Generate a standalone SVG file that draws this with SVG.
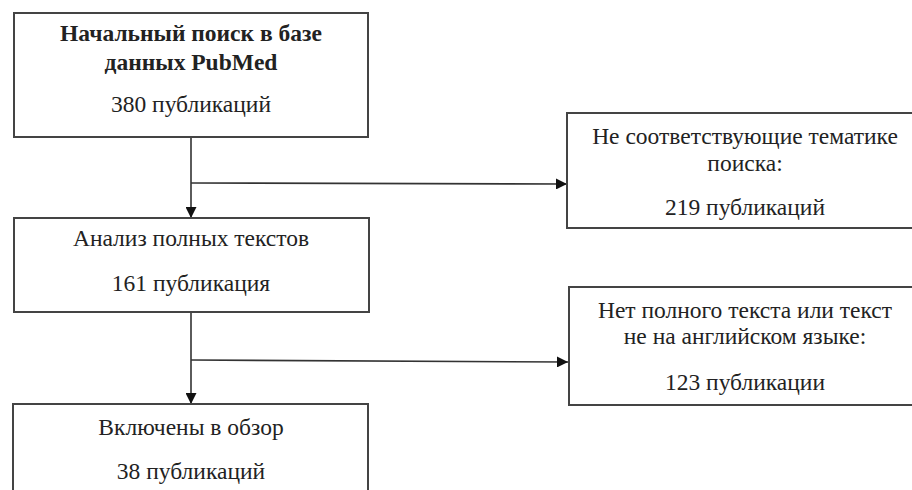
<svg xmlns="http://www.w3.org/2000/svg" width="912" height="490" viewBox="0 0 912 490">
<defs>
<style>
.box{fill:#fff;stroke:#444;stroke-width:2}
.t{font-family:"Liberation Serif","Times New Roman",serif;font-size:23.5px;fill:#222;text-anchor:middle}
.b{font-weight:bold}
.c{fill:none;stroke:#333;stroke-width:1.6}
</style>
<marker id="ah" viewBox="0 0 10 10" refX="10" refY="5" markerWidth="11" markerHeight="11" orient="auto" markerUnits="userSpaceOnUse">
<path d="M0,0 L10,5 L0,10 z" fill="#111"/>
</marker>
</defs>
<rect width="912" height="490" fill="#fff"/>
<g id="connectors">
<line class="c" x1="191" y1="137" x2="191" y2="218" marker-end="url(#ah)"/>
<line class="c" x1="191" y1="183" x2="567" y2="184" marker-end="url(#ah)"/>
<line class="c" x1="191" y1="312" x2="191" y2="404" marker-end="url(#ah)"/>
<line class="c" x1="191" y1="360" x2="568" y2="362" marker-end="url(#ah)"/>
</g>
<g id="n1">
<rect class="box" x="14" y="13" width="354" height="124"/>
<text class="t b" x="191" y="41">Начальный поиск в базе</text>
<text class="t b" x="191" y="70">данных PubMed</text>
<text class="t" x="191" y="112">380 публикаций</text>
</g>
<g id="n2">
<rect class="box" x="14" y="218" width="355" height="94"/>
<text class="t" x="191" y="246">Анализ полных текстов</text>
<text class="t" x="191" y="291">161 публикация</text>
</g>
<g id="n3">
<rect class="box" x="13" y="404" width="355" height="100"/>
<text class="t" x="191" y="435">Включены в обзор</text>
<text class="t" x="191" y="479">38 публикаций</text>
</g>
<g id="n4">
<rect class="box" x="567" y="113" width="360" height="115"/>
<text class="t" x="745" y="144">Не соответствующие тематике</text>
<text class="t" x="745" y="171">поиска:</text>
<text class="t" x="745" y="215">219 публикаций</text>
</g>
<g id="n5">
<rect class="box" x="569" y="287" width="360" height="118"/>
<text class="t" x="745" y="318">Нет полного текста или текст</text>
<text class="t" x="745" y="344">не на английском языке:</text>
<text class="t" x="745" y="390">123 публикации</text>
</g>
</svg>
